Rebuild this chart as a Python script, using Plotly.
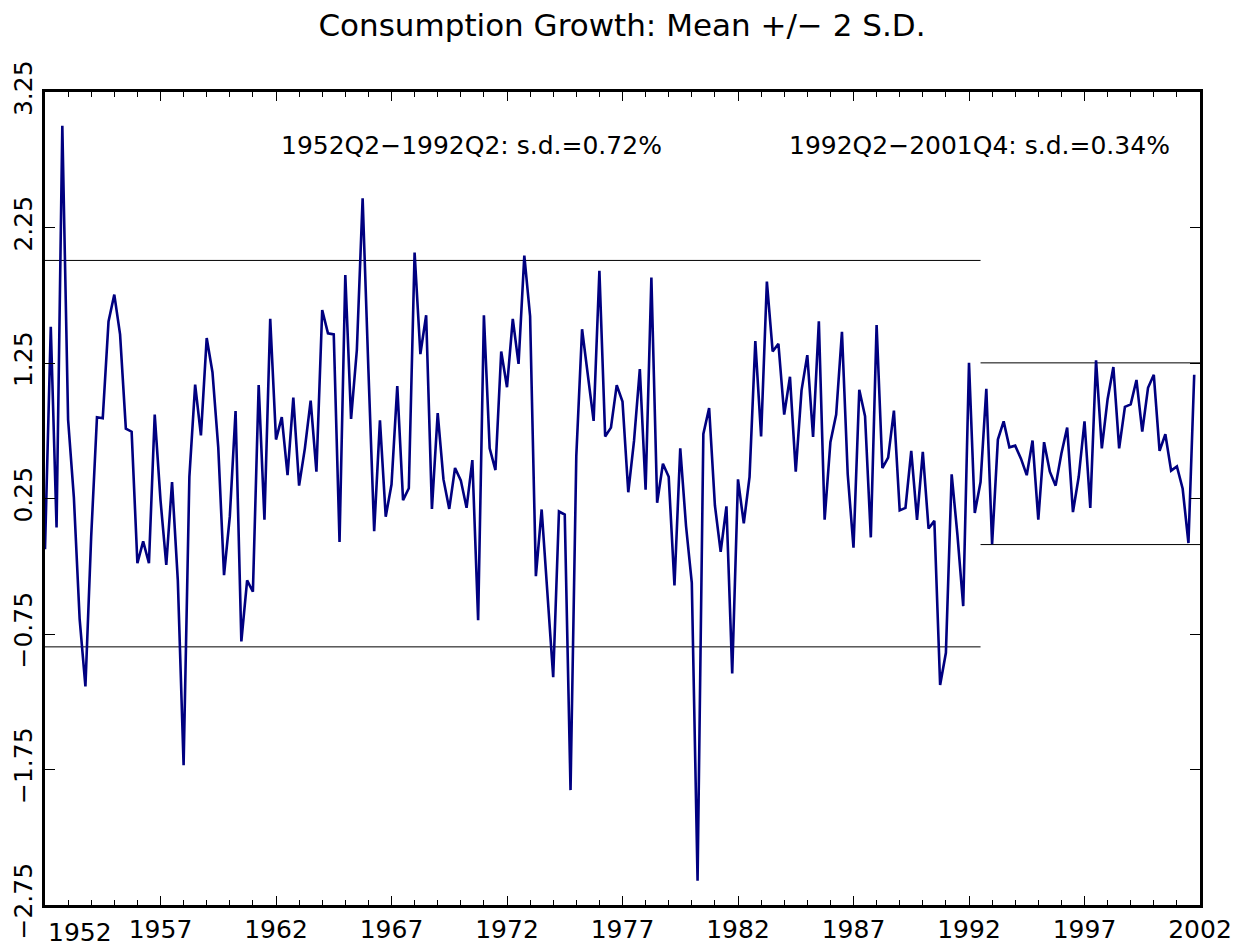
import plotly.graph_objects as go

# Quarterly consumption growth (percent), starting 1952
start_year = 1952
growth = [
    -0.125, 1.518, 0.036, 3.0, 0.831, 0.257, -0.641, -1.137, -0.029, 0.85,
    0.842, 1.557, 1.755, 1.461, 0.766, 0.743, -0.228, -0.067, -0.228, 0.869,
    0.238, -0.24, 0.372, -0.354, -1.718, 0.41, 1.09, 0.716, 1.434, 1.182,
    0.628, -0.316, 0.116, 0.896, -0.805, -0.354, -0.438, 1.087, 0.093, 1.576,
    0.685, 0.85, 0.422, 0.995, 0.345, 0.62, 0.972, 0.448, 1.641, 1.469,
    1.461, -0.07, 1.9, 0.838, 1.346, 2.466, 1.2, 0.009, 0.827, 0.116,
    0.353, 1.079, 0.238, 0.326, 2.065, 1.316, 1.602, 0.173, 0.88, 0.391,
    0.173, 0.475, 0.384, 0.181, 0.533, -0.648, 1.602, 0.62, 0.46, 1.335,
    1.071, 1.576, 1.243, 2.042, 1.595, -0.323, 0.169, -0.42, -1.069, 0.154,
    0.131, -1.902, 0.563, 1.499, 1.163, 0.823, 1.931, 0.708, 0.773, 1.087,
    0.965, 0.296, 0.677, 1.205, 0.315, 1.881, 0.219, 0.506, 0.41, -0.392,
    0.62, 0.047, -0.373, -2.57, 0.727, 0.918, 0.2, -0.144, 0.192, -1.042,
    0.391, 0.066, 0.41, 1.411, 0.708, 1.851, 1.335, 1.392, 0.869, 1.148,
    0.448, 1.048, 1.308, 0.704, 1.557, 0.093, 0.666, 0.869, 1.48, 0.429,
    -0.113, 1.052, 0.857, -0.037, 1.53, 0.475, 0.552, 0.899, 0.162, 0.181,
    0.601, 0.093, 0.594, 0.028, 0.085, -1.126, -0.889, 0.429, -0.02, -0.545,
    1.251, 0.143, 0.372, 1.06, -0.087, 0.685, 0.819, 0.628, 0.64, 0.544,
    0.422, 0.678, 0.093, 0.666, 0.448, 0.345, 0.582, 0.773, 0.15, 0.41,
    0.819, 0.181, 1.27, 0.62, 0.983, 1.22, 0.62, 0.926, 0.945, 1.125,
    0.743, 1.067, 1.163, 0.601, 0.724, 0.456, 0.487, 0.322, -0.079, 1.163,
]
quarters = [start_year + i / 4 for i in range(len(growth))]

# Mean +/- 2 s.d. bands for the two sub-periods
band_labels = ["1952Q2\u22121992Q2: s.d.=0.72%", "1992Q2\u22122001Q4: s.d.=0.34%"]
band_start = [1952.0, 1992.5]
band_end = [1992.5, 2002.0]
band_upper = [2.007, 1.251]
band_lower = [-0.845, -0.090]

# Axis ticks
x_tickvals = [1952, 1957, 1962, 1967, 1972, 1977, 1982, 1987, 1992, 1997, 2002]
x_ticktext = ["", "1957", "1962", "1967", "1972", "1977", "1982", "1987", "1992", "1997", "2002"]
y_tickvals = [3.25, 2.25, 1.25, 0.25, -0.75, -1.75, -2.75]

FONT = "DejaVu Sans"
W, H = 1236, 939   # page body adds an 8px offset to the figure

fig = go.Figure()
for s, e, up, lo in zip(band_start, band_end, band_upper, band_lower):
    for level in (up, lo):
        fig.add_trace(go.Scatter(x=[s, e], y=[level, level], mode="lines",
                                 line=dict(color="black", width=1),
                                 showlegend=False, hoverinfo="skip"))

fig.add_trace(go.Scatter(x=quarters, y=growth, mode="lines",
                         line=dict(color="#000080", width=2.6),
                         showlegend=False))

fig.update_layout(
    width=W, height=H,
    margin=dict(l=37, r=W - 1192, t=84, b=H - 897, autoexpand=False),
    paper_bgcolor="white", plot_bgcolor="white",
    title=dict(text="Consumption Growth: Mean +/\u2212 2 S.D.", x=(622 - 8) / W, xanchor="center",
               y=1 - 17 / H, yanchor="middle",
               font=dict(family=FONT, size=31, color="black")),
    font=dict(family=FONT, color="black"),
)
fig.update_xaxes(
    range=[1952, 2002], showgrid=False, zeroline=False, automargin=False,
    showline=True, linewidth=3, linecolor="black", mirror="allticks",
    ticks="inside", ticklen=9, tickwidth=1, tickcolor="black",
    tickvals=x_tickvals, ticktext=x_ticktext,
    tickfont=dict(family=FONT, size=25, color="black"),
    minor=dict(dtick=1, tick0=1952, ticks="inside", ticklen=5, tickwidth=1, tickcolor="black"),
)
fig.update_yaxes(
    range=[-2.75, 3.25], showgrid=False, zeroline=False, automargin=False,
    showline=True, linewidth=3, linecolor="black", mirror="allticks",
    ticks="inside", ticklen=10, tickwidth=1, tickcolor="black",
    tickvals=y_tickvals, ticktext=[f"{v:.2f}".replace("-", "\u2212") for v in y_tickvals],
    tickangle=-90,
    tickfont=dict(family=FONT, size=25, color="black"),
)

# First year label sits to the right of the left border, as in the original
fig.add_annotation(x=1953.5, y=0, xref="x", yref="paper", yshift=-27, yanchor="middle",
                   text="1952", showarrow=False,
                   font=dict(family=FONT, size=25, color="black"))

for label, xc in zip(band_labels, [471.5, 979.5]):
    fig.add_annotation(x=(xc - 8 - 37) / (1192 - 37), y=(897 - 137) / (897 - 84),
                       xref="paper", yref="paper",
                       text=label, showarrow=False, xanchor="center", yanchor="middle",
                       font=dict(family=FONT, size=25, color="black"))

fig.write_html("out.html")
